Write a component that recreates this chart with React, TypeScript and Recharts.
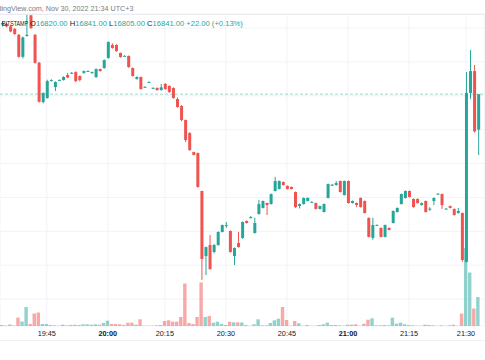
import { ComposedChart, Bar, XAxis, YAxis, CartesianGrid, ReferenceLine } from 'recharts'

// BTCUSD 1-minute candles, Bitstamp, Nov 30 2022 (19:34 .. 21:33, UTC+3)
const opens = [
  16882, 16882.5, 16881, 16879.5, 16876, 16863, 16875.3, 16887.5, 16876, 16859.5,
  16836.3, 16838.7, 16849, 16845.2, 16849.2, 16849.3, 16852.3, 16853.4, 16854, 16851.7,
  16853.5, 16854.5, 16853.4, 16851.1, 16855.8, 16856.4, 16862.3, 16870, 16870, 16865.3,
  16863.4, 16863.5, 16856.4, 16849.9, 16851.1, 16845.1, 16848, 16844.5, 16844.6, 16843.4,
  16847, 16845.8, 16844.6, 16838.1, 16834, 16825.7, 16818, 16806.8, 16806.2, 16783.8,
  16745.4, 16751.9, 16747.8, 16751.9, 16759.6, 16763.5, 16760.2, 16745.4, 16753.1, 16756.1,
  16766.1, 16767.9, 16759, 16770.2, 16773.8, 16776.7, 16776.1, 16783.8, 16785, 16789.1,
  16786.8, 16786.2, 16783.2, 16774.9, 16776.1, 16777.9, 16777.2, 16776.7, 16773.2, 16771.4,
  16779.7, 16787.3, 16787.3, 16789.7, 16781.4, 16789.7, 16776.7, 16776.7, 16779.7, 16777.9,
  16767.9, 16756.1, 16763.6, 16762, 16756.7, 16762, 16764.9, 16771.4, 16776.1, 16779.7,
  16783.8, 16779.1, 16779.1, 16775.5, 16777.9, 16773.2, 16777.9, 16782, 16782, 16773.2,
  16774.9, 16773.2, 16770.8, 16770.8, 16741.9, 16841.7, 16854.6, 16820,
]
const highs = [
  16884, 16883, 16882, 16880, 16876.5, 16875, 16887.7, 16888, 16876.5, 16860,
  16842, 16849.5, 16849.8, 16848.5, 16849.6, 16851.5, 16853.5, 16854, 16854.5, 16852,
  16855, 16855, 16854.3, 16856.2, 16856, 16861.5, 16872, 16871, 16870.5, 16865.5,
  16864, 16863.8, 16856.8, 16851.5, 16851.4, 16845.6, 16848.5, 16845, 16845, 16847,
  16847.5, 16846.2, 16845, 16839, 16834.5, 16826, 16818.5, 16807, 16806.5, 16784,
  16751, 16757.8, 16752.5, 16760, 16764, 16765.5, 16760.5, 16750.5, 16759.6, 16765.8,
  16766.4, 16769, 16768, 16778.5, 16778.2, 16777, 16782.3, 16792.1, 16790, 16789.4,
  16787.1, 16786.5, 16783.5, 16776.4, 16780, 16780, 16777.7, 16777, 16775.2, 16776.4,
  16788.2, 16788, 16789.7, 16790, 16790, 16790, 16778.2, 16777, 16780, 16778.2,
  16768.2, 16768, 16764, 16762.3, 16764, 16762.3, 16772.3, 16774.1, 16782.3, 16784.1,
  16784.1, 16779.4, 16779.4, 16777, 16778.2, 16774.3, 16780, 16782.5, 16782.3, 16773.7,
  16775.2, 16773.5, 16773.8, 16771.1, 16854, 16867, 16858.2, 16841,
]
const lows = [
  16881, 16880.5, 16877.5, 16876, 16862.5, 16862, 16875, 16879.5, 16859, 16836,
  16835.5, 16838.3, 16848.5, 16842.8, 16849, 16849, 16850.5, 16853, 16848, 16848.5,
  16853, 16854.2, 16853, 16850.5, 16854.3, 16856, 16862, 16867.8, 16866, 16862.5,
  16863, 16856.5, 16851.3, 16849.6, 16843.6, 16844.9, 16847.8, 16844.3, 16843, 16843,
  16843.6, 16841.8, 16838.3, 16833, 16825, 16812.7, 16807.5, 16804.8, 16785.8, 16731.3,
  16734.2, 16737.3, 16747, 16751.5, 16759.3, 16762, 16747.4, 16740.1, 16750.4, 16755.5,
  16764.6, 16767.6, 16758.7, 16769.9, 16773.5, 16769.6, 16775.8, 16783.5, 16784.7, 16787,
  16784.7, 16784.7, 16773.8, 16773.5, 16775.8, 16777.6, 16777, 16772.9, 16772.9, 16771.1,
  16779.4, 16786.8, 16787, 16782.9, 16781.1, 16776.4, 16776.4, 16774.3, 16774, 16770.5,
  16756.4, 16755, 16763.4, 16756.4, 16756.4, 16760.5, 16764.6, 16771.1, 16775.8, 16779.4,
  16780, 16774, 16776.4, 16775.2, 16771.1, 16772, 16775.5, 16781.8, 16773.2, 16773,
  16773.5, 16769.3, 16770.5, 16742, 16741.6, 16838, 16818.3, 16805,
]
const closes = [
  16883, 16881, 16878, 16876.5, 16863, 16874.5, 16876, 16880, 16859.5, 16836.5,
  16841.7, 16848.7, 16849.3, 16848.1, 16849.4, 16851.1, 16850.8, 16853.6, 16848.7, 16849.3,
  16854.6, 16854.7, 16854, 16855.8, 16854.6, 16861.1, 16871.8, 16868.2, 16866.4, 16862.9,
  16863.6, 16857, 16851.7, 16851.1, 16844, 16845.3, 16848.2, 16844.7, 16843.4, 16845,
  16844, 16842.2, 16838.7, 16833.4, 16825.7, 16813.9, 16808, 16805.1, 16786.2, 16743.7,
  16750.7, 16737.7, 16751.9, 16759.6, 16763.7, 16763.7, 16747.8, 16750.1, 16750.7, 16765.5,
  16764.9, 16768.4, 16764.9, 16776.1, 16777.9, 16775.5, 16782, 16789.7, 16789.7, 16787.3,
  16785, 16785, 16774.3, 16776.1, 16779.7, 16779.7, 16777.4, 16773.2, 16774.9, 16776.1,
  16787.9, 16787.5, 16788.5, 16783.2, 16789.7, 16776.7, 16777.9, 16775.5, 16774.3, 16770.8,
  16756.7, 16763.7, 16763.8, 16756.7, 16763.7, 16760.8, 16772, 16773.8, 16782, 16783.8,
  16780.3, 16774.3, 16776.7, 16776.7, 16771.4, 16773.4, 16779.7, 16782.2, 16775.5, 16773.4,
  16773.8, 16769.6, 16772, 16743.1, 16841.7, 16854.6, 16819, 16841,
]
// volume, BTC
const volumes = [
  2, 1, 3, 1, 17, 9, 38, 4, 25, 27,
  4, 4, 2, 1.4, 0.6, 2.6, 1.4, 2, 2.6, 2,
  3.4, 3.4, 2.6, 3.4, 2.6, 6, 10.6, 4, 4, 3.4,
  2, 6.6, 6.6, 2.6, 13.4, 0.6, 0.6, 0.6, 1.4, 2,
  10, 11.4, 8.6, 8.6, 18, 85, 6, 4, 18, 87,
  18, 20, 6.6, 8.6, 4, 2, 8.6, 7.4, 7.4, 7,
  2, 0.6, 3.4, 13.4, 1.4, 1.4, 6, 11.4, 14.6, 38,
  12, 0.6, 10, 5.4, 0.6, 2, 0.6, 0.6, 2, 3.4,
  6.6, 2, 2, 1.4, 0.6, 2.6, 2.6, 3.4, 0.6, 4.6,
  12.6, 15.4, 1.4, 1.4, 2, 1.4, 16.6, 4.6, 6.6, 3.4,
  2, 1.4, 0.6, 0.6, 2.6, 2, 1.4, 0.4, 1.4, 0.6,
  1.4, 2.6, 0.6, 25, 156, 107, 35, 58,
]

const tickIndex = [11, 26, 40, 55, 70, 85, 100, 114]
const tickLabels = ['19:45', '20:00', '20:15', '20:30', '20:45', '21:00', '21:15', '21:30']
const priceTicks = [
  16710, 16720, 16730, 16740, 16750, 16760, 16770, 16780, 16790,
  16800, 16810, 16820, 16830, 16840, 16850, 16860, 16870, 16880,
]
const lastPrice = 16841

const UP = '#26a69a'
const DOWN = '#ef5350'
const FONT = '"Liberation Sans", Arial, sans-serif'

const data: any[] = opens.map((open, i) => ({
  i,
  open,
  high: highs[i],
  low: lows[i],
  close: closes[i],
  volume: volumes[i],
}))
data.push({ i: opens.length }) // empty slot right of the last bar

function Candle(props: any) {
  const { x, y, width, height, payload } = props
  if (payload.open == null) return null
  const { open, close, high, low } = payload
  const top = Math.min(y, y + height)
  const h = Math.abs(height)
  const k = h / (high - low)
  const yOf = (v: number) => top + (high - v) * k
  const color = close >= open ? UP : DOWN
  const bodyTop = yOf(Math.max(open, close))
  const bodyH = Math.max(1, Math.abs(yOf(open) - yOf(close)))
  const cx = x + width / 2
  return (
    <g>
      <line x1={cx} x2={cx} y1={top} y2={top + h} stroke={color} strokeWidth={1} />
      <rect x={x} y={bodyTop} width={width} height={bodyH} fill={color} />
    </g>
  )
}

function VolumeBar(props: any) {
  const { x, y, width, height, payload } = props
  if (!payload.volume) return null
  return (
    <rect
      x={x}
      y={y}
      width={width}
      height={height}
      fill={payload.close >= payload.open ? UP : DOWN}
      fillOpacity={0.5}
    />
  )
}

function TimeTick({ x, y, payload }: any) {
  const n = tickIndex.indexOf(payload.value)
  if (n < 0) return null
  const label = tickLabels[n]
  return (
    <text
      x={x}
      y={y}
      dy={9.8}
      textAnchor="middle"
      fontSize={7.3}
      fontFamily={FONT}
      fontWeight={label.endsWith(':00') ? 700 : 400}
      fill="#131722"
    >
      {label}
    </text>
  )
}

export default function App() {
  return (
    <div style={{ position: 'absolute', left: 0, top: 0, width: 485, height: 360, background: '#fff' }}>
      <ComposedChart width={485} height={360} data={data} margin={{ top: 14, right: 0.7, bottom: 0, left: 0 }}>
        <CartesianGrid stroke="#f0f3fa" yAxisId="price" />
        <XAxis
          dataKey="i"
          ticks={tickIndex}
          interval={0}
          height={34}
          axisLine={false}
          tickLine={false}
          tickSize={0}
          tickMargin={0}
          tick={<TimeTick />}
        />
        <XAxis dataKey="i" xAxisId="vol" hide />
        <YAxis yAxisId="price" domain={[16704.1, 16888.3]} ticks={priceTicks} allowDataOverflow hide />
        <YAxis yAxisId="vol" domain={[0, 624]} allowDataOverflow hide />
        <Bar
          xAxisId="vol"
          yAxisId="vol"
          dataKey="volume"
          barSize={3.4}
          shape={<VolumeBar />}
          isAnimationActive={false}
        />
        <ReferenceLine
          yAxisId="price"
          y={lastPrice}
          stroke={UP}
          strokeOpacity={0.45}
          strokeDasharray="3 2"
        />
        <Bar
          yAxisId="price"
          dataKey={(d: any) => (d.open == null ? null : [d.low, d.high])}
          barSize={3}
          shape={<Candle />}
          isAnimationActive={false}
        />
      </ComposedChart>
      <svg
        width={485}
        height={360}
        style={{ position: 'absolute', left: 0, top: 0, pointerEvents: 'none' }}
        fontFamily={FONT}
      >
        <line x1={0} x2={485} y1={14.5} y2={14.5} stroke="#e9ebf0" />
        <line x1={0} x2={485} y1={340.5} y2={340.5} stroke="#eef0f4" />
        <text x={-13} y={11} fontSize={7.2} fill="#787b86">
          TradingView.com, Nov 30, 2022 21:34 UTC+3
        </text>
        <text x={2} y={25.8} fontSize={7.2} fill="#131722" textLength={26} lengthAdjust="spacingAndGlyphs">
          BITSTAMP
        </text>
        <text x={30} y={25.8} fontSize={7.6} fill="#131722">
          O<tspan fill={UP}>16820.00</tspan> H<tspan fill={UP}>16841.00</tspan> L
          <tspan fill={UP}>16805.00</tspan> C<tspan fill={UP}>16841.00</tspan>
          <tspan fill={UP}> +22.00 (+0.13%)</tspan>
        </text>
      </svg>
    </div>
  )
}
